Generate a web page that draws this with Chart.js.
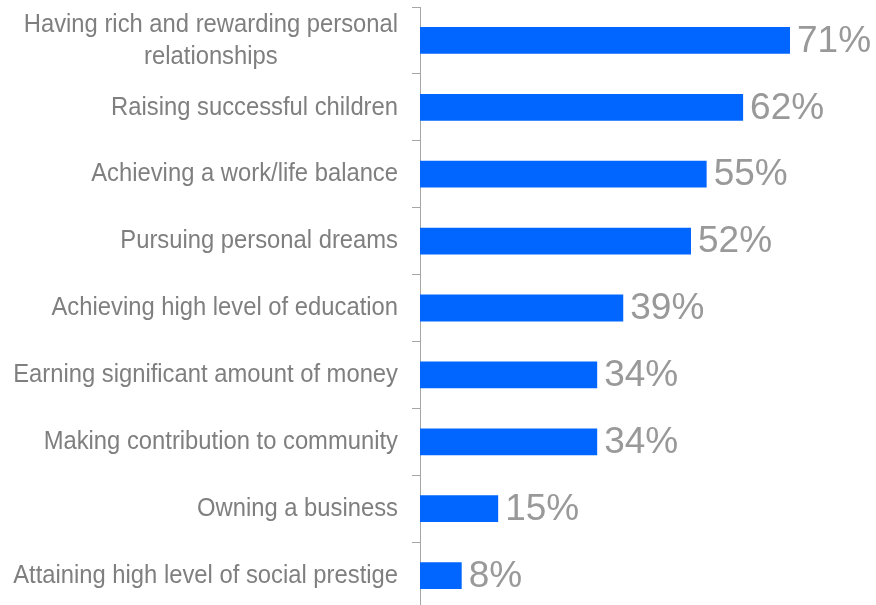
<!DOCTYPE html>
<html>
<head>
<meta charset="utf-8">
<script src="https://cdn.jsdelivr.net/npm/chart.js@4"></script>
<style>
  html, body { margin: 0; padding: 0; background: #fff; overflow: hidden; }
  #wrap { position: relative; width: 876px; height: 609px; }
</style>
</head>
<body>
<div id="wrap"><canvas id="myChart"></canvas></div>
<script>
// categories, top to bottom
const labels = [
    ["Having rich and rewarding personal", "relationships"],
    "Raising successful children",
    "Achieving a work/life balance",
    "Pursuing personal dreams",
    "Achieving high level of education",
    "Earning significant amount of money",
    "Making contribution to community",
    "Owning a business",
    "Attaining high level of social prestige",
];

const values = [71, 62, 55, 52, 39, 34, 34, 15, 8];

const labelFont = '26px "Liberation Sans", Arial, sans-serif';
const labelSquash = 0.915; // narrow look for the category text
const valueFont = '37px "Liberation Sans", Arial, sans-serif';

// category labels on the left, multi-line ones centred on their widest line
const categoryLabels = {
    id: 'categoryLabels',
    afterDraw(chart) {
        const c = chart.ctx;
        const y = chart.scales.y;
        const right = y.right - 22;
        c.save();
        c.font = labelFont;
        c.fillStyle = '#7f7f7f';
        c.textBaseline = 'middle';
        labels.forEach(function (lab, i) {
            const py = y.getPixelForValue(i);
            const lines = Array.isArray(lab) ? lab : [lab];
            const w = Math.max.apply(null, lines.map(t => c.measureText(t).width));
            const lh = 32;
            lines.forEach(function (t, k) {
                const ly = py + (k - (lines.length - 1) / 2) * lh;
                c.save();
                c.translate(right, ly);
                c.scale(labelSquash, 1);
                if (lines.length > 1) {
                    c.textAlign = 'center';
                    c.fillText(t, -w / 2, 0);
                } else {
                    c.textAlign = 'right';
                    c.fillText(t, 0, 0);
                }
                c.restore();
            });
        });
        c.restore();
    }
};

// value labels at the end of each bar
const valueLabels = {
    id: 'valueLabels',
    afterDatasetsDraw(chart) {
        const c = chart.ctx;
        const meta = chart.getDatasetMeta(0);
        c.save();
        c.font = valueFont;
        c.fillStyle = '#999999';
        c.textAlign = 'left';
        c.textBaseline = 'middle';
        meta.data.forEach(function (bar, i) {
            c.fillText(values[i] + '%', bar.x + 7, bar.y + 1);
        });
        c.restore();
    }
};

const ctx = document.getElementById('myChart').getContext('2d');

const myChart = new Chart(ctx, {
    type: 'bar',
    data: {
        labels: labels,
        datasets: [{
            data: values,
            backgroundColor: '#0066ff',
            borderWidth: 0,
            categoryPercentage: 1,
            barPercentage: 0.4,
        }],
    },
    options: {
        indexAxis: 'y',
        responsive: true,
        maintainAspectRatio: false,
        animation: false,
        layout: { padding: { top: 7, bottom: 0, left: 0, right: 0 } },
        plugins: {
            legend: { display: false },
            tooltip: { enabled: false },
        },
        scales: {
            x: {
                display: false,
                min: 0,
                max: 87.5,
            },
            y: {
                afterFit: function (scale) { scale.width = 420; },
                border: { display: true, color: '#a6a6a6', width: 1 },
                grid: {
                    display: true,
                    drawOnChartArea: false,
                    drawTicks: true,
                    tickLength: 8,
                    offset: true,
                    color: '#a6a6a6',
                },
                ticks: { display: false },
            },
        },
    },
    plugins: [categoryLabels, valueLabels],
});
</script>
</body>
</html>
